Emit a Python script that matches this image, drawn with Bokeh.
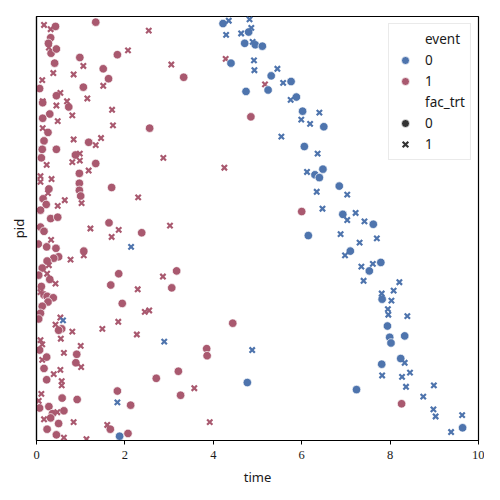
from bokeh.plotting import figure
from bokeh.models import Range1d, FixedTicker, Legend, LegendItem
from bokeh.core.properties import value
from bokeh.embed import file_html
from bokeh.resources import INLINE

# ---- data: event=1 (red), fac_trt=0 (circle)
t_e1_f0 = [0.43, 1.34, 0.32, 0.33, 0.45, 0.41, 0.27, 0.98, 1.83, 1.51, 3.33, 1.63, 1.06, 0.07, 0.45, 0.14,
           0.73, 0.30, 0.14, 2.56, 0.26, 0.17, 1.18, 0.13, 0.45, 0.88, 0.11, 1.34, 0.97, 0.97, 0.28, 0.97,
           1.70, 1.00, 0.15, 0.22, 0.09, 0.32, 0.48, 1.64, 0.09, 0.17, 2.38, 0.04, 0.23, 0.44, 1.07, 0.50,
           0.39, 0.24, 0.13, 0.05, 0.30, 1.86, 3.17, 1.68, 3.06, 0.11, 0.17, 0.24, 0.38, 0.26, 0.13, 1.94,
           0.09, 0.05, 0.57, 0.50, 4.44, 0.07, 0.91, 0.23, 3.85, 3.86, 0.89, 0.17, 0.23, 3.21, 2.71, 1.83,
           0.58, 0.92, 3.26, 0.07, 0.28, 2.13, 0.62, 0.36, 0.32, 0.50, 1.67, 0.24, 0.45, 2.07, 4.85, 6.00,
           8.26]
pid_e1_f0 = [293, 296, 285, 274, 277, 267, 281, 271, 273, 263, 257, 256, 250, 249, 244, 239,
             236, 231, 228, 221, 218, 212, 211, 206, 206, 202, 200, 196, 189, 182, 178, 177,
             179, 173, 171, 167, 163, 157, 158, 154, 151, 148, 147, 139, 137, 136, 134, 130,
             129, 127, 122, 117, 114, 118, 120, 110, 108, 109, 103, 102, 101, 98, 95, 97,
             90, 86, 79, 78, 83, 64, 61, 59, 65, 60, 55, 51, 43, 49, 44, 35,
             30, 29, 32, 23, 24, 25, 21, 19, 16, 12, 8, 8, 4, 5, 229, 162,
             26]

# ---- event=1 (red), fac_trt=1 (x)
t_e1_f1 = [0.17, 2.54, 0.32, 0.28, 2.07, 1.06, 3.05, 0.38, 0.84, 0.13, 1.51, 0.54, 1.15, 0.14, 0.69, 0.45,
           0.81, 1.71, 0.48, 1.73, 0.14, 0.84, 1.46, 1.34, 2.87, 0.98, 0.81, 0.98, 0.23, 4.25, 4.28, 5.17,
           0.09, 0.09, 0.34, 1.18, 0.26, 1.02, 2.30, 0.64, 0.48, 3.02, 1.22, 1.86, 1.70, 0.33, 1.07, 0.77,
           0.28, 0.24, 0.43, 2.86, 2.29, 0.09, 2.45, 2.55, 0.54, 0.43, 1.85, 1.49, 0.81, 2.27, 0.55, 0.09,
           0.13, 1.00, 0.62, 0.13, 1.01, 0.54, 0.39, 0.57, 0.57, 3.57, 0.11, 0.05, 0.47, 0.17, 0.84, 1.60,
           3.92, 0.62, 1.13]
pid_e1_f1 = [294, 290, 291, 278, 276, 265, 266, 260, 259, 255, 251, 246, 242, 240, 240, 237,
             230, 234, 226, 223, 221, 213, 214, 209, 200, 203, 197, 198, 195, 193, 270, 252,
             187, 183, 185, 191, 175, 168, 172, 170, 166, 152, 150, 149, 144, 142, 131, 128,
             124, 118, 111, 116, 107, 105, 91, 92, 87, 82, 84, 79, 77, 75, 72, 71,
             68, 67, 62, 57, 52, 50, 47, 42, 39, 37, 33, 28, 20, 15, 13, 11,
             13, 2, 1]

# ---- event=0 (blue), fac_trt=0 (circle)
t_e0_f0 = [4.22, 4.80, 4.71, 4.95, 5.11, 4.40, 5.31, 5.76, 4.74, 5.24, 5.88, 6.02, 6.50, 6.06, 6.48, 6.30,
           6.40, 6.85, 6.93, 7.62, 6.15, 7.10, 7.53, 7.79, 7.82, 7.94, 7.99, 8.02, 8.33, 8.24, 7.81, 4.77,
           7.24, 9.64, 1.88]
pid_e0_f0 = [295, 289, 281, 280, 279, 267, 258, 254, 247, 248, 243, 233, 222, 208, 192, 188,
             186, 180, 160, 153, 145, 134, 120, 126, 100, 81, 73, 69, 74, 58, 54, 41,
             36, 9, 3]

# ---- event=0 (blue), fac_trt=1 (x)
t_e0_f1 = [4.35, 4.82, 4.86, 4.63, 4.29, 4.89, 4.92, 4.93, 5.45, 5.58, 5.75, 6.40, 5.99, 6.19, 5.54, 6.36,
           6.12, 6.34, 7.03, 6.47, 7.22, 7.03, 7.42, 6.88, 7.31, 7.70, 6.98, 7.35, 7.61, 7.40, 8.21, 7.81,
           8.08, 8.03, 7.95, 7.96, 8.39, 8.33, 8.45, 7.82, 8.27, 8.36, 8.99, 8.75, 8.98, 9.03, 9.63, 9.38,
           4.88, 2.14, 0.60, 2.89, 1.83]
pid_e0_f1 = [297, 298, 292, 288, 287, 282, 269, 262, 263, 253, 241, 232, 227, 224, 215, 203,
             190, 176, 174, 164, 161, 156, 155, 146, 140, 143, 131, 123, 125, 113, 112, 104,
             106, 99, 93, 89, 88, 55, 48, 46, 45, 38, 39, 31, 22, 17, 18, 6,
             64, 137, 85, 70, 27]

x_ticks = [0, 2, 4, 6, 8, 10]
event_labels = ["0", "1"]
trt_labels = ["0", "1"]

BLUE = "#4e74ad"
RED = "#a9596f"
DARK = "#333333"

p = figure(frame_width=442, frame_height=424, output_backend="svg", toolbar_location=None,
           x_range=Range1d(0, 10), y_range=Range1d(0, 300),
           min_border_left=36, min_border_top=16, min_border_right=6, min_border_bottom=40)
p.background_fill_color = "white"
p.border_fill_color = "white"
p.outline_line_color = "black"
p.outline_line_width = 1.2
p.xgrid.visible = False
p.ygrid.visible = False

p.xaxis.ticker = FixedTicker(ticks=x_ticks)
p.xaxis.minor_tick_line_color = None
p.xaxis.major_tick_out = 4
p.xaxis.major_tick_in = 0
p.xaxis.major_label_standoff = 6
p.xaxis.major_label_text_font = "Liberation Serif"
p.xaxis.major_label_text_font_size = "12.5px"
p.xaxis.major_label_text_color = "#1a1a1a"
p.xaxis.axis_label = "time"

p.yaxis.ticker = FixedTicker(ticks=[])
p.yaxis.minor_tick_line_color = None
p.yaxis.major_tick_line_color = None
p.yaxis.axis_label = "pid"
p.yaxis.axis_label_standoff = 9

for ax in (p.xaxis, p.yaxis):
    ax.axis_line_color = "black"
    ax.axis_line_width = 1.2
    ax.axis_label_text_font = "Noto Sans"
    ax.axis_label_text_font_size = "13px"
    ax.axis_label_text_font_style = "normal"
    ax.axis_label_text_color = "#1a1a1a"
p.xaxis.axis_label_standoff = 6

CS = 8.5
XS = 7.5
XW = 2.2

p.scatter(t_e1_f0, pid_e1_f0, marker="circle", size=CS, fill_color=RED, line_color="white", line_width=0.7)
p.scatter(t_e1_f1, pid_e1_f1, marker="x", size=XS, line_color=RED, line_width=XW)
p.scatter(t_e0_f0, pid_e0_f0, marker="circle", size=CS, fill_color=BLUE, line_color="white", line_width=0.7)
p.scatter(t_e0_f1, pid_e0_f1, marker="x", size=XS, line_color=BLUE, line_width=XW)

# legend-only renderers: one point far outside the visible ranges
off = ([-100], [-100])
blank1 = p.scatter(*off, marker="circle", size=CS, fill_alpha=0, line_alpha=0)
blank2 = p.scatter(*off, marker="circle", size=CS, fill_alpha=0, line_alpha=0)
lg_e0 = p.scatter(*off, marker="circle", size=7.5, fill_color=BLUE, line_color="white", line_width=0.7)
lg_e1 = p.scatter(*off, marker="circle", size=7.5, fill_color=RED, line_color="white", line_width=0.7)
lg_f0 = p.scatter(*off, marker="circle", size=7.5, fill_color=DARK, line_color="white", line_width=0.7)
lg_f1 = p.scatter(*off, marker="x", size=6.5, line_color=DARK, line_width=XW)

legend = Legend(items=[
    LegendItem(label=value("event"), renderers=[blank1]),
    LegendItem(label=value(event_labels[0]), renderers=[lg_e0]),
    LegendItem(label=value(event_labels[1]), renderers=[lg_e1]),
    LegendItem(label=value("fac_trt"), renderers=[blank2]),
    LegendItem(label=value(trt_labels[0]), renderers=[lg_f0]),
    LegendItem(label=value(trt_labels[1]), renderers=[lg_f1]),
], location="top_right")
legend.margin = 7
legend.padding = 5
legend.spacing = 1
legend.label_height = 20
legend.glyph_height = 20
legend.glyph_width = 22
legend.label_standoff = 9
legend.label_text_font = "Noto Sans"
legend.label_text_font_size = "13.5px"
legend.label_text_color = "#1a1a1a"
legend.border_line_color = "#d6d6d6"
legend.border_line_width = 1
legend.background_fill_color = "white"
legend.background_fill_alpha = 0.85
p.add_layout(legend, "center")

open("out.html", "w").write(file_html(p, INLINE))
